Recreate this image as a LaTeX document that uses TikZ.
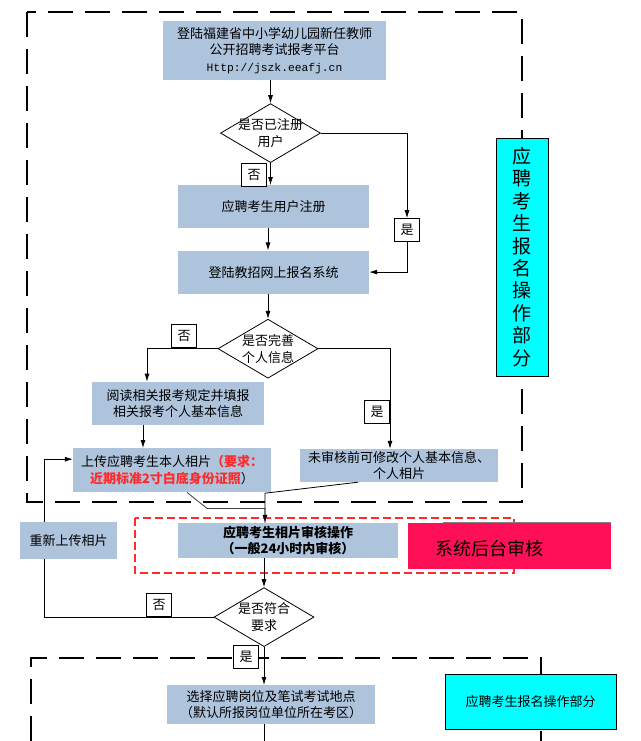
\documentclass[tikz,border=0pt]{standalone}
\usepackage{fontspec}
\setmainfont{Noto Sans CJK SC}
\newfontfamily\urlfont{Liberation Mono}
\usepackage{xcolor}
\usetikzlibrary{arrows.meta,positioning,shapes.geometric}
\definecolor{diaBlue}{HTML}{AEC3DC}
\definecolor{diaCyan}{HTML}{00FFFF}
\definecolor{diaRose}{HTML}{FF0F55}
\definecolor{diaRed}{HTML}{FF2A2A}
\tikzset{
  caja/.style={fill=diaBlue, inner sep=0pt, align=center, font=\fontsize{13}{16.5}\selectfont},
  rombo/.style={diamond, draw=black, line width=0.8pt, inner sep=0pt, minimum width=100pt, minimum height=59pt},
  etiq/.style={draw=black, fill=white, line width=0.6pt, inner sep=0pt, minimum width=25pt, minimum height=23pt, font=\fontsize{13}{15}\selectfont},
  flecha/.style={-{Latex[length=8pt,width=5pt]}, line width=0.8pt},
  marco/.style={draw=black, line width=1.5pt, dash pattern=on 25pt off 12pt},
  marcorojo/.style={draw=diaRed, line width=1.3pt, dash pattern=on 8pt off 4pt},
}

\begin{document}
\begin{tikzpicture}[x=1pt, y=-1pt, every label/.style={align=center, font=\fontsize{13}{17}\selectfont}]
\useasboundingbox (0,0) rectangle (640,741);
% frames
\draw[marco] (27,12) rectangle (522,502);
\draw[marco] (31,741) |- (541,658) -- (541,741);
\draw[marcorojo] (135,518) rectangle (514,573);

\node[caja, minimum width=223pt, minimum height=59pt] (box1) at (274.5,50.5) {登陆福建省中小学幼儿园新任教师\\公开招聘考试报考平台\\{\urlfont\fontsize{11.3}{16.5}\selectfont Http://jszk.eeafj.cn}};
\node[rombo, below=23pt of box1, xshift=-4pt, label=center:{是否已注册\\用户}] (d1) {};
\node[caja, minimum width=191pt, minimum height=43pt, below=22pt of d1, xshift=3pt] (box2) {应聘考生用户注册};
\node[caja, minimum width=191pt, minimum height=43pt, below=22pt of box2] (box3) {登陆教招网上报名系统};
\node[rombo, below=25pt of box3, xshift=-5.5pt, label=center:{是否完善\\个人信息}] (d2) {};
\node[caja, minimum width=172pt, minimum height=43pt, below=3pt of d2, xshift=-90pt] (box4) {阅读相关报考规定并填报\\相关报考个人基本信息};
\node[caja, minimum width=198pt, minimum height=44pt, below=23pt of box4, xshift=-6pt] (box5) {上传应聘考生本人相片{\color{diaRed}\bfseries（要求：}\\{\color{diaRed}\bfseries 近期标准2寸白底身份证照}）};
\node[caja, minimum width=198pt, minimum height=33pt] (box6) at (399,465.5) {未审核前可修改个人基本信息、\\个人相片};
\node[caja, minimum width=220pt, minimum height=35pt, font=\fontsize{13}{16.5}\selectfont\bfseries] (box7) at (288,540.5) {应聘考生相片审核操作\\（一般24小时内审核）};
\node[rombo, below=29pt of box7, xshift=-24pt, label=center:{是否符合\\要求}] (d3) {};
\node[caja, minimum width=208pt, minimum height=39pt, below=38pt of d3, xshift=7pt] (box8) {选择应聘岗位及笔试考试地点\\（默认所报岗位单位所在考区）};

\node[etiq] (no1) at (254,175) {否};
\node[etiq] (yes1) at (407,230) {是};
\node[etiq] (no2) at (184,335.5) {否};
\node[etiq] (yes2) at (377,411.5) {是};
\node[etiq] (no3) at (159,604.5) {否};
\node[etiq] (yes3) at (246,656.5) {是};

% connectors
\draw[flecha] (box1.south -| d1.north) -- (d1.north);
\draw[flecha] (d1.south) -- (box2.north -| d1.south);
\draw[flecha] (d1.east) -| (yes1.north);
\draw[flecha] (yes1.south) |- (box3.east);
\draw[flecha] (box2.south -| d2.north) -- (box3.north -| d2.north);
\draw[flecha] (box3.south -| d2.north) -- (d2.north);
\draw[flecha] (d2.west) -| ([xshift=-31pt]box4.north);
\draw[flecha] (d2.east) -| ([xshift=-9pt]box6.north);
\draw[flecha] ([xshift=-35pt]box4.south) -- ([xshift=-29pt]box5.north);
\draw[black!75, line width=0.8pt] ([xshift=15pt]box5.south) -- ++(20,16) -| ([xshift=-23pt]box7.north);
\draw[flecha] ([xshift=-41pt]box6.south) -- ++(-93,11) -- ([xshift=-23pt]box7.north);
\draw[flecha] (box7.south -| d3.north) -- (d3.north);
\draw[flecha] (d3.west) -- ++(-169,0) |- ([yshift=11pt]box5.west);
\draw[flecha] (d3.south) -- (box8.north -| d3.south);
\draw[line width=0.8pt] (box8.south -| d3.south) -- ++(0,20);

\node[caja, minimum width=97pt, minimum height=37pt] (redo) at (68.5,540.5) {重新上传相片};
\node[fill=diaRose, inner sep=0pt, minimum width=203pt, minimum height=46pt,
  label={[xshift=-20pt, yshift=-3pt, font=\fontsize{18}{20}\selectfont]center:系统后台审核}] (sys) at (509.5,546) {};
\draw[gray, line width=1pt] ([xshift=35pt]sys.north west) -- (sys.north east);
\node[draw=black, fill=diaCyan, line width=0.8pt, inner sep=0pt, minimum width=52pt, minimum height=238pt, align=center, font=\fontsize{19}{22.4}\selectfont] (side1) at (522,257) {应\\聘\\考\\生\\报\\名\\操\\作\\部\\分};
\node[draw=black, fill=diaCyan, line width=0.8pt, inner sep=0pt, minimum width=171pt, minimum height=55pt, font=\fontsize{13}{16}\selectfont] (side2) at (530.5,701.5) {应聘考生报名操作部分};
\end{tikzpicture}
\end{document}
